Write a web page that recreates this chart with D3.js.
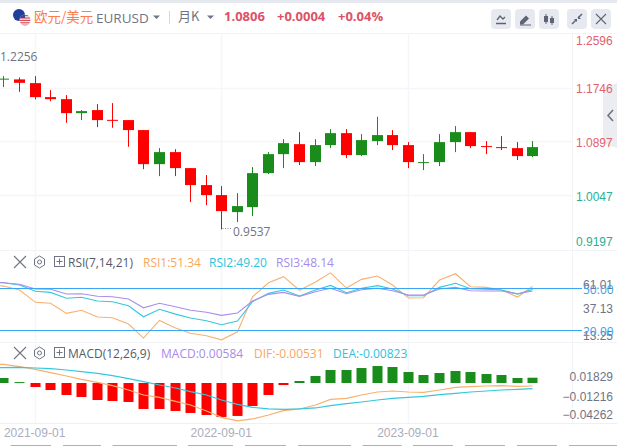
<!DOCTYPE html>
<html>
<head>
<meta charset="utf-8">
<script src="https://cdn.jsdelivr.net/npm/d3@7"></script>
<style>
  html, body { margin: 0; padding: 0; background: #fff; overflow: hidden; }
  svg { display: block; font-family: "Open Sans", "Noto Sans", "Noto Sans CJK SC", sans-serif; }
  .domain { display: none; }
</style>
</head>
<body>
<div id="chart"></div>
<script>
// monthly candles, first one sits just off the left edge
var months = ["2021-06-01","2021-07-01","2021-08-01","2021-09-01","2021-10-01","2021-11-01","2021-12-01",
  "2022-01-01","2022-02-01","2022-03-01","2022-04-01","2022-05-01","2022-06-01","2022-07-01","2022-08-01",
  "2022-09-01","2022-10-01","2022-11-01","2022-12-01","2023-01-01","2023-02-01","2023-03-01","2023-04-01",
  "2023-05-01","2023-06-01","2023-07-01","2023-08-01","2023-09-01","2023-10-01","2023-11-01","2023-12-01",
  "2024-01-01","2024-02-01","2024-03-01","2024-04-01","2024-05-01"];

var open = [1.2226,1.1873,1.1877,1.1818,1.1597,1.1565,1.1344,1.1392,1.1238,1.1234,1.1076,1.0538,1.0728,1.0475,1.0207,1.0049,0.9780,0.9859,1.0396,1.0696,1.0854,1.0570,1.0839,1.1028,1.0681,1.0902,1.0997,1.0839,1.0554,1.0570,1.0886,1.1044,1.0823,1.0807,1.0791,1.0665];
var close = [1.1858,1.1889,1.1823,1.1597,1.1565,1.1344,1.1376,1.1234,1.1222,1.1076,1.0538,1.0728,1.0475,1.0207,1.0049,0.9796,0.9875,1.0396,1.0696,1.0870,1.0570,1.0839,1.1028,1.0681,1.0918,1.0997,1.0839,1.0570,1.0570,1.0886,1.1044,1.0823,1.0812,1.0791,1.0665,1.0807];
var high = [1.2256,1.1929,1.1908,1.1929,1.1708,1.1629,1.1392,1.1486,1.1502,1.1234,1.1076,1.0791,1.0775,1.0475,1.0365,1.0191,1.0080,1.0491,1.0728,1.0933,1.1044,1.0933,1.1091,1.1091,1.1012,1.1286,1.1076,1.0886,1.0696,1.1012,1.1139,1.1044,1.0902,1.0981,1.0886,1.0902];
var low = [1.1845,1.1755,1.1681,1.1561,1.1534,1.1191,1.1234,1.1123,1.1112,1.0812,1.0459,1.0349,1.0349,0.9938,0.9891,0.9507,0.9622,0.9717,1.0380,1.0475,1.0523,1.0507,1.0791,1.0633,1.0665,1.0839,1.0760,1.0475,1.0444,1.0507,1.0728,1.0791,1.0696,1.0760,1.0602,1.0649];

var rsi1 = [52.5,51.6,48.8,40.0,39.3,32.1,34.3,29.5,29.0,24.5,14.5,27.1,21.7,17.9,16.2,13.25,19.0,44.0,54.0,58.3,48.6,54.5,61.01,50.2,56.4,58.8,52.4,43.1,43.3,55.9,60.4,51.1,50.7,48.8,43.8,51.34];
var rsi2 = [54.6,54.0,52.4,47.9,47.1,42.9,43.6,40.9,40.4,37.6,29.7,35.0,31.6,28.8,26.9,24.0,26.6,40.4,46.4,48.8,44.5,48.8,52.1,46.9,50.0,51.9,49.5,44.7,44.7,50.7,53.6,49.7,49.3,48.8,45.9,49.20];
var rsi3 = [54.3,54.0,52.9,49.5,49.3,45.9,46.1,44.3,44.0,42.4,36.1,39.3,36.9,34.3,32.9,30.7,32.4,40.9,45.7,47.1,44.3,47.6,50.0,46.1,49.0,50.0,48.3,45.2,45.2,49.5,50.7,48.3,48.1,48.1,46.1,48.14];

var macdBar = [0.0060,0.0055,0.0010,-0.0044,-0.0077,-0.0132,-0.0154,-0.0187,-0.0198,-0.0209,-0.0286,-0.0286,-0.0308,-0.0330,-0.0352,-0.0374,-0.0363,-0.0253,-0.0132,-0.0022,0.0022,0.0077,0.0143,0.0143,0.0165,0.0187,0.0176,0.0121,0.0088,0.0110,0.0132,0.0121,0.0099,0.0088,0.0055,0.00584];
var dif = [0.0209,0.0205,0.0180,0.0150,0.0114,0.0077,0.0040,0.0007,-0.0029,-0.0077,-0.0132,-0.0158,-0.0202,-0.0242,-0.0308,-0.0378,-0.0418,-0.0396,-0.0352,-0.0305,-0.0286,-0.0242,-0.0180,-0.0169,-0.0132,-0.0099,-0.0088,-0.0099,-0.0103,-0.0077,-0.0048,-0.0040,-0.0033,-0.0029,-0.0037,-0.0033];
var dea = [0.0169,0.0170,0.0172,0.0165,0.0158,0.0143,0.0125,0.0106,0.0081,0.0048,0.0015,-0.0022,-0.0055,-0.0095,-0.0132,-0.0187,-0.0235,-0.0268,-0.0286,-0.0290,-0.0286,-0.0275,-0.0250,-0.0228,-0.0209,-0.0187,-0.0169,-0.0158,-0.0147,-0.0128,-0.0114,-0.0099,-0.0088,-0.0077,-0.0070,-0.0062];

var priceTicks = [1.2596, 1.1746, 1.0897, 1.0047, 0.9197];
var rsiTicks = [61.01, 37.13, 13.25];
var rsiLevels = [50, 20];
var macdTicks = [0.01829, -0.01216, -0.04262];
var dateTicks = ["2021-09-01", "2022-09-01", "2023-09-01"];
var highLabel = "1.2256";
var lowLabel = "0.9537";

var width = 617, height = 446;
var plotRight = 572;
var red = "#ff0000", green = "#198c1c";
var gridColor = "#f5f6fa";
var textGrey = "#6f7484";

var svg = d3.select("#chart").append("svg").attr("width", width).attr("height", height);

var x = d3.scaleBand().domain(months).range([-19.83, 540.08]).paddingInner(0.3).paddingOuter(0.15);
var cx = function (m) { return Math.round(x(m) + x.bandwidth() / 2) + 0.5; };

var yPrice = d3.scaleLinear().domain([0.9197, 1.2596]).range([249, 33.9]);
var yRsi = d3.scaleLinear().domain([13.25, 61.01]).range([339.8, 272.9]);
var yMacd = d3.scaleLinear().domain([-0.04262, 0.01829]).range([421.7, 366.4]);

// frame
svg.append("rect").attr("width", width).attr("height", 3).attr("fill", "#e6e9f0");
[33.5, 250.5, 342.5].forEach(function (y) {
  svg.append("line").attr("x1", 0).attr("x2", width).attr("y1", y).attr("y2", y).attr("stroke", "#f2f3f7");
});
svg.append("line").attr("x1", plotRight + 0.5).attr("x2", plotRight + 0.5).attr("y1", 33).attr("y2", 423).attr("stroke", "#f2f3f7");
svg.append("line").attr("x1", 0).attr("x2", width).attr("y1", 423.5).attr("y2", 423.5).attr("stroke", "#eef0f4");

// side collapse tab, under the price labels
svg.append("path").attr("d", "M617,83L603,88V143L617,148Z").attr("fill", "#ecedf1");
svg.append("path").attr("d", "M613,110l-5,5.5l5,5.5").attr("fill", "none").attr("stroke", "#6f7484").attr("stroke-width", 1.6);

// vertical grid
dateTicks.forEach(function (d) {
  svg.append("line").attr("x1", cx(d)).attr("x2", cx(d)).attr("y1", 33).attr("y2", 423)
    .attr("stroke", gridColor).attr("stroke-width", 1.5);
});

// price axis, the outer labels are pushed inside the panel
var priceAxis = d3.axisRight(yPrice).tickValues(priceTicks).tickSize(0).tickFormat(d3.format(".4f"));
var gPrice = svg.append("g").attr("transform", "translate(576,0)").call(priceAxis);
gPrice.selectAll("text")
  .attr("x", 0)
  .attr("dy", function (d) { return d === 1.2596 ? 11 : d === 0.9197 ? -3.5 : 5; })
  .attr("fill", function (d) { return d > 1.05 ? "#e2606f" : "#27b095"; })
  .style("font-size", "12px").style("font-family", "inherit");

svg.append("g").selectAll("line").data(priceTicks.slice(1, 4)).enter().append("line")
  .attr("x1", 0).attr("x2", plotRight)
  .attr("y1", function (d) { return Math.round(yPrice(d)) + 0.5; })
  .attr("y2", function (d) { return Math.round(yPrice(d)) + 0.5; })
  .attr("stroke", gridColor).attr("stroke-width", 1.5);

// candles
var candles = svg.append("g").selectAll("g").data(months).enter().append("g");
var candleColor = function (d, i) { return close[i] >= open[i] ? green : red; };

candles.append("line")
  .attr("x1", cx).attr("x2", cx)
  .attr("y1", function (d, i) { return yPrice(high[i]); })
  .attr("y2", function (d, i) { return yPrice(low[i]); })
  .attr("stroke", candleColor);

candles.append("rect")
  .attr("x", function (d) { return cx(d) - 5.5; })
  .attr("width", 11)
  .attr("y", function (d, i) { return yPrice(Math.max(open[i], close[i])); })
  .attr("height", function (d, i) {
    return Math.max(1, Math.abs(yPrice(open[i]) - yPrice(close[i])));
  })
  .attr("fill", candleColor);

// high and low marks
svg.append("text").attr("x", 0).attr("y", 61).attr("fill", textGrey).style("font-size", "12px").text(highLabel);
svg.append("line").attr("x1", cx("2022-09-01") + 1).attr("x2", 232).attr("y1", 228.5).attr("y2", 228.5)
  .attr("stroke", "#7f8392").attr("stroke-dasharray", "1,1.5");
svg.append("text").attr("x", 233).attr("y", 236).attr("fill", textGrey).style("font-size", "12px").text(lowLabel);

// rsi panel
var rsiLine = function (values) {
  return d3.line().x(function (d) { return cx(d); }).y(function (d, i) { return yRsi(values[i]); })(months);
};
[[rsi1, "#f9b06f"], [rsi2, "#35c7dd"], [rsi3, "#ab8eea"]].forEach(function (s) {
  svg.append("path").attr("d", rsiLine(s[0])).attr("fill", "none").attr("stroke", s[1]).attr("stroke-width", 1.1);
});
rsiLevels.forEach(function (v) {
  svg.append("line").attr("x1", 0).attr("x2", 582)
    .attr("y1", Math.round(yRsi(v)) + 0.5).attr("y2", Math.round(yRsi(v)) + 0.5)
    .attr("stroke", "#3aa5f5");
});

var rsiAxis = d3.axisRight(yRsi).tickValues(rsiTicks).tickSize(0).tickFormat(d3.format(".2f"));
var gRsi = svg.append("g").attr("transform", "translate(583,0)").call(rsiAxis);
gRsi.selectAll("text")
  .attr("x", 0)
  .attr("dy", function (d) { return d === 61.01 ? 15.5 : d === 13.25 ? -0.5 : 6.5; })
  .attr("fill", textGrey).style("font-size", "12px").style("font-family", "inherit");

svg.append("g").selectAll("text").data(rsiLevels).enter().append("text")
  .attr("x", 583)
  .attr("y", function (d) { return yRsi(d) + 5.5; })
  .attr("fill", "#3aa0ee").style("font-size", "12px")
  .text(d3.format(".2f"));

// macd panel
svg.append("g").selectAll("rect").data(months).enter().append("rect")
  .attr("x", function (d) { return cx(d) - 5; })
  .attr("width", 10)
  .attr("y", function (d, i) { return Math.min(yMacd(macdBar[i]), yMacd(0)); })
  .attr("height", function (d, i) { return Math.max(1, Math.abs(yMacd(macdBar[i]) - yMacd(0))); })
  .attr("fill", function (d, i) { return macdBar[i] >= 0 ? green : red; });

var macdLine = function (values) {
  return d3.line().x(function (d) { return cx(d); }).y(function (d, i) { return yMacd(values[i]); })(months);
};
[[dif, "#f9b06f"], [dea, "#35c7dd"]].forEach(function (s) {
  svg.append("path").attr("d", macdLine(s[0])).attr("fill", "none").attr("stroke", s[1]).attr("stroke-width", 1.2);
});

var macdAxis = d3.axisRight(yMacd).tickValues(macdTicks).tickSize(0).tickFormat(d3.format(".5f"));
var gMacd = svg.append("g").attr("transform", "translate(613,0)").call(macdAxis);
gMacd.selectAll("text")
  .attr("x", 0)
  .attr("text-anchor", "end")
  .attr("dy", function (d) { return d === 0.01829 ? 14 : d === -0.04262 ? -3 : 6.5; })
  .attr("fill", textGrey).style("font-size", "12px").style("font-family", "inherit");

// date axis
var dateAxis = d3.axisBottom(x).tickValues(dateTicks).tickSize(0);
var gDate = svg.append("g").attr("transform", "translate(0,423)").call(dateAxis);
gDate.selectAll("text")
  .attr("dy", "0.95em").attr("y", 3)
  .attr("fill", "#a9adbc").style("font-size", "12px").style("font-family", "inherit");

// tops of the tabs cut off by the window
[[10.6, 51], [63, 101], [112.6, 177], [188, 233], [245, 286], [298, 351], [362.6, 401.6], [413, 453], [465, 505], [517, 557], [569, 617]].forEach(function (t) {
  svg.append("rect").attr("x", t[0]).attr("y", 445).attr("width", t[1] - t[0]).attr("height", 1).attr("fill", "#e0aa4e");
});

// header
var flag = svg.append("g");
flag.append("circle").attr("cx", 19).attr("cy", 15).attr("r", 6).attr("fill", "#1e3f9a");
svg.append("clipPath").attr("id", "usClip").append("circle").attr("cx", 25).attr("cy", 20).attr("r", 5.5);
var us = flag.append("g").attr("clip-path", "url(#usClip)");
us.append("rect").attr("x", 19).attr("y", 14).attr("width", 12).attr("height", 12).attr("fill", "#f4f4f6");
d3.range(15, 26, 2.4).forEach(function (y) {
  us.append("rect").attr("x", 19).attr("y", y).attr("width", 12).attr("height", 1.2).attr("fill", "#d8505c");
});
us.append("rect").attr("x", 19).attr("y", 14).attr("width", 6).attr("height", 4).attr("fill", "#3a4a90");

var headText = function (px, py, str, color, size, weight, family) {
  return svg.append("text").attr("x", px).attr("y", py).attr("fill", color)
    .style("font-size", size + "px").style("font-weight", weight || 400)
    .style("font-family", family || "inherit").text(str);
};
var cjk = '"Noto Sans CJK SC", sans-serif';
headText(34, 21.5, "欧元/美元", "#fb7d4f", 13.5, 400, cjk);
headText(96, 23, "EURUSD", textGrey, 13.5);
headText(178, 21, "月K", textGrey, 13, 400, cjk);
headText(224, 21, "1.0806", "#dd5166", 13, 700);
headText(277, 21, "+0.0004", "#dd5166", 13, 700);
headText(338, 21, "+0.04%", "#dd5166", 13, 700);
[[153, 15.5], [207, 15.5]].forEach(function (c) {
  svg.append("path").attr("d", "M" + c[0] + "," + c[1] + "h7l-3.5,3.5z").attr("fill", "#6f7484");
});
svg.append("line").attr("x1", 169.5).attr("x2", 169.5).attr("y1", 11).attr("y2", 24).attr("stroke", "#d5d8e0");

// toolbar buttons
var btnStroke = "#5f6475";
[491, 515, 539, 567, 591].forEach(function (bx) {
  svg.append("rect").attr("x", bx).attr("y", 9).attr("width", 20).attr("height", 20).attr("rx", 4).attr("fill", "#e6e9f0");
});
svg.append("path").attr("d", "M497,20l3,-4l3,3l2,-2 M496,23.5h10").attr("fill", "none").attr("stroke", btnStroke).attr("stroke-width", 1.3);
svg.append("path").attr("d", "M520,21.5l6,-6l3,3l-6,6h-3z").attr("fill", btnStroke);
svg.append("path").attr("d", "M520,25h11").attr("stroke", btnStroke).attr("fill", "none");
svg.append("path").attr("d", "M546,14v10 M552,16v9").attr("stroke", btnStroke).attr("fill", "none");
svg.append("rect").attr("x", 544).attr("y", 16).attr("width", 4).attr("height", 6).attr("fill", btnStroke);
svg.append("rect").attr("x", 550).attr("y", 18).attr("width", 4).attr("height", 5).attr("fill", btnStroke);
svg.append("path").attr("d", "M572,24l4,-4 M582,14l-4,4").attr("stroke", btnStroke).attr("stroke-width", 1.5).attr("fill", "none");
svg.append("path").attr("d", "M574,19h3v3z M578,19h3l-3,-3z").attr("fill", btnStroke);
svg.append("path").attr("d", "M596,14l10,10 M606,14l-10,10").attr("stroke", btnStroke).attr("stroke-width", 1.1).attr("fill", "none");

// indicator headers
var iconGroup = function (py) {
  svg.append("path").attr("d", "M14," + (py - 6) + "l12,12 M26," + (py - 6) + "l-12,12").attr("stroke", textGrey).attr("stroke-width", 1.1).attr("fill", "none");
  var hex = d3.line()([[39.5, py - 6], [44.5, py - 3], [44.5, py + 3], [39.5, py + 6], [34.5, py + 3], [34.5, py - 3]]) + "Z";
  svg.append("path").attr("d", hex).attr("stroke", textGrey).attr("fill", "none");
  svg.append("circle").attr("cx", 39.5).attr("cy", py).attr("r", 2).attr("stroke", textGrey).attr("fill", "none");
  svg.append("rect").attr("x", 54.5).attr("y", py - 5.5).attr("width", 10).attr("height", 10).attr("stroke", textGrey).attr("fill", "none");
  svg.append("path").attr("d", "M56.5," + (py - 0.5) + "h6 M59.5," + (py - 3.5) + "v6").attr("stroke", textGrey).attr("fill", "none");
};
iconGroup(262);
iconGroup(353);

headText(68, 267, "RSI(7,14,21)", "#555a68", 12);
headText(143, 267, "RSI1:51.34", "#f8a75e", 12);
headText(209, 267, "RSI2:49.20", "#2cc3dc", 12);
headText(276, 267, "RSI3:48.14", "#a78bea", 12);
headText(68, 358, "MACD(12,26,9)", "#555a68", 12);
headText(161, 358, "MACD:0.00584", "#a78bea", 12);
headText(254, 358, "DIF:-0.00531", "#f8a75e", 12);
headText(333, 358, "DEA:-0.00823", "#2cc3dc", 12);
</script>
</body>
</html>
